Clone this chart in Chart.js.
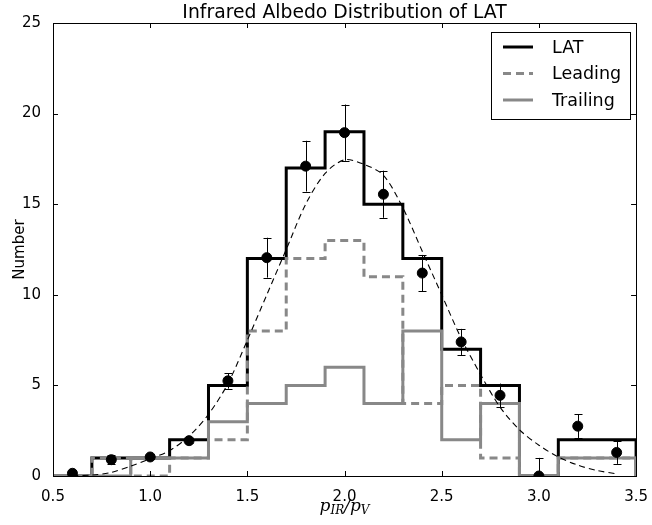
<!DOCTYPE html>
<html>
<head>
<meta charset="utf-8">
<script src="https://cdn.jsdelivr.net/npm/chart.js@4.4.0/dist/chart.umd.min.js"></script>
<style>
  html, body { margin: 0; padding: 0; background: #fff; }
  #wrap { width: 652px; height: 525px; }
</style>
</head>
<body>
<div id="wrap"><canvas id="c" width="652" height="525"></canvas></div>
<script>
// ---------------- DATA ----------------
const titleText = 'Infrared Albedo Distribution of LAT';
const yAxisTitle = 'Number';
const legendLabels = ['LAT', 'Leading', 'Trailing'];

const xTicks = [0.5, 1.0, 1.5, 2.0, 2.5, 3.0, 3.5];
const yTicks = [0, 5, 10, 15, 20, 25];

const binEdges = [0.5, 0.7, 0.9, 1.1, 1.3, 1.5, 1.7, 1.9, 2.1, 2.3, 2.5, 2.7, 2.9, 3.1, 3.3, 3.5];
const latCounts      = [0, 1, 1, 2, 5, 12, 17, 19, 15, 12, 7, 5, 0, 2, 2];
const leadingCounts  = [0, 1, 0, 1, 2,  8, 12, 13, 11,  4, 5, 1, 0, 1, 1];
const trailingCounts = [0, 0, 1, 1, 3,  4,  5,  6,  4,  8, 2, 4, 0, 1, 1];

const pointX   = [0.6, 0.8, 1.0, 1.2, 1.4, 1.6, 1.8, 2.0, 2.2, 2.4, 2.6, 2.8, 3.0, 3.2, 3.4];
const pointY   = [0.15, 0.9, 1.05, 1.95, 5.25, 12.05, 17.1, 18.95, 15.55, 11.2, 7.4, 4.45, 0.0, 2.75, 1.3];
const pointErr = [0.15, 0.25, 0.12, 0.12, 0.43, 1.1, 1.4, 1.55, 1.3, 1.0, 0.72, 0.65, 1.0, 0.65, 0.63];

const fitX = [0.6, 0.7, 0.8, 0.9, 1.0, 1.1, 1.2, 1.3, 1.4, 1.5, 1.6, 1.7, 1.8, 1.9, 2.0, 2.1, 2.2, 2.3, 2.4, 2.5, 2.6, 2.7, 2.8, 2.9, 3.0, 3.1, 3.2, 3.3, 3.4];
const fitY = [0.02, 0.05, 0.2, 0.55, 0.95, 1.4, 2.2, 3.4, 5.1, 7.5, 10.0, 12.5, 15.0, 16.7, 17.45, 17.2, 16.6, 14.8, 12.4, 10.0, 7.6, 5.6, 3.8, 2.55, 1.7, 1.05, 0.6, 0.3, 0.12];

// ---------------- HELPERS ----------------
// points for a matplotlib-like "step" histogram outline
function stepData(edges, counts) {
  const pts = [{x: edges[0], y: 0}, {x: edges[0], y: counts[0]}];
  for (let i = 0; i < counts.length; i++) pts.push({x: edges[i + 1], y: counts[i]});
  pts.push({x: edges[edges.length - 1], y: 0});
  return pts;
}
const GRAY = '#888888';

const overlayPlugin = {
  id: 'overlay',
  beforeDatasetDraw(chart, args) {
    if (args.meta.label !== 'points') return;
    const {ctx, chartArea: a, scales: {x, y}} = chart;
    ctx.save();
    ctx.beginPath();
    ctx.rect(a.left, a.top, a.right - a.left, a.bottom - a.top);
    ctx.clip();
    ctx.strokeStyle = '#000';
    ctx.lineWidth = 1;
    for (let i = 0; i < pointX.length; i++) {
      const px = Math.round(x.getPixelForValue(pointX[i])) + 0.5;
      const yt = y.getPixelForValue(pointY[i] + pointErr[i]);
      const yb = y.getPixelForValue(pointY[i] - pointErr[i]);
      ctx.beginPath();
      ctx.moveTo(px, yt); ctx.lineTo(px, yb);
      ctx.moveTo(px - 4, Math.round(yt) + 0.5); ctx.lineTo(px + 4, Math.round(yt) + 0.5);
      ctx.moveTo(px - 4, Math.round(yb) + 0.5); ctx.lineTo(px + 4, Math.round(yb) + 0.5);
      ctx.stroke();
    }
    ctx.restore();
  },
  afterDraw(chart) {
    const {ctx, chartArea: a, scales: {x, y}} = chart;
    ctx.save();
    // frame
    ctx.strokeStyle = '#000';
    ctx.lineWidth = 1;
    ctx.strokeRect(Math.round(a.left) + 0.5, Math.round(a.top) + 0.5, Math.round(a.right - a.left), Math.round(a.bottom - a.top));
    // inner ticks on all sides
    ctx.beginPath();
    const tl = 5;
    xTicks.forEach(v => {
      const px = Math.round(x.getPixelForValue(v)) + 0.5;
      ctx.moveTo(px, a.bottom); ctx.lineTo(px, a.bottom - tl);
      ctx.moveTo(px, a.top); ctx.lineTo(px, a.top + tl);
    });
    yTicks.forEach(v => {
      const py = Math.round(y.getPixelForValue(v)) + 0.5;
      ctx.moveTo(a.left, py); ctx.lineTo(a.left + tl, py);
      ctx.moveTo(a.right, py); ctx.lineTo(a.right - tl, py);
    });
    ctx.stroke();

    // title
    const cx = (a.left + a.right) / 2;
    ctx.fillStyle = '#000';
    ctx.font = '18.8px "DejaVu Sans"';
    ctx.textAlign = 'center';
    ctx.textBaseline = 'alphabetic';
    ctx.fillText(titleText, cx, 17.5);

    // y axis title
    ctx.save();
    ctx.translate(23.5, (a.top + a.bottom) / 2);
    ctx.rotate(-Math.PI / 2);
    ctx.font = '15px "DejaVu Sans"';
    ctx.textAlign = 'center';
    ctx.fillText(yAxisTitle, 0, 0);
    ctx.restore();

    // x axis title: p_IR / p_V (math style)
    const big = 'italic 17px "DejaVu Serif"';
    const small = 'italic 12px "DejaVu Serif"';
    const parts = [
      {t: 'p', f: big, dy: 0},
      {t: 'IR', f: small, dy: 3},
      {t: '/', f: 'italic 17px "DejaVu Serif"', dy: 0},
      {t: 'p', f: big, dy: 0},
      {t: 'V', f: small, dy: 3}
    ];
    let total = 0;
    parts.forEach(p => { ctx.font = p.f; p.w = ctx.measureText(p.t).width; total += p.w; });
    let sx = cx - total / 2;
    ctx.textAlign = 'left';
    parts.forEach(p => { ctx.font = p.f; ctx.fillText(p.t, sx, 511 + p.dy); sx += p.w; });

    // legend
    const lx = 491.5, ly = 32.5, lw = 139, lh = 87;
    ctx.fillStyle = '#fff';
    ctx.fillRect(lx, ly, lw, lh);
    ctx.strokeStyle = '#000';
    ctx.lineWidth = 1;
    ctx.strokeRect(lx, ly, lw, lh);
    const rows = [
      {y: 47, color: '#000', dash: []},
      {y: 73.5, color: GRAY, dash: [8, 5]},
      {y: 100, color: GRAY, dash: []}
    ];
    ctx.font = '17.5px "DejaVu Sans"';
    ctx.textBaseline = 'middle';
    rows.forEach((r, i) => {
      ctx.strokeStyle = r.color;
      ctx.lineWidth = 3;
      ctx.setLineDash(r.dash);
      ctx.beginPath();
      ctx.moveTo(503, r.y); ctx.lineTo(533, r.y);
      ctx.stroke();
      ctx.setLineDash([]);
      ctx.fillStyle = '#000';
      ctx.fillText(legendLabels[i], 552, r.y + 1);
    });
    ctx.restore();
  }
};

new Chart(document.getElementById('c'), {
  type: 'scatter',
  data: {
    datasets: [
      {label: legendLabels[0], type: 'line', data: stepData(binEdges, latCounts), stepped: 'after',
       borderColor: '#000', borderWidth: 3, pointRadius: 0, fill: false, order: 5, borderJoinStyle: 'miter'},
      {label: legendLabels[1], type: 'line', data: stepData(binEdges, leadingCounts), stepped: 'after',
       borderColor: GRAY, borderWidth: 3, borderDash: [8, 5], pointRadius: 0, fill: false, order: 4, borderJoinStyle: 'miter'},
      {label: legendLabels[2], type: 'line', data: stepData(binEdges, trailingCounts), stepped: 'after',
       borderColor: GRAY, borderWidth: 3, pointRadius: 0, fill: false, order: 3, borderJoinStyle: 'miter'},
      {label: 'fit', type: 'line', data: fitX.map((v, i) => ({x: v, y: fitY[i]})),
       borderColor: '#000', borderWidth: 1.1, borderDash: [6, 4], pointRadius: 0, fill: false, tension: 0.3, order: 2},
      {label: 'points', type: 'scatter', data: pointX.map((v, i) => ({x: v, y: pointY[i]})),
       backgroundColor: '#000', borderColor: '#000', pointRadius: 5, pointHoverRadius: 5, order: 1}
    ]
  },
  options: {
    responsive: false,
    animation: false,
    devicePixelRatio: 1,
    events: [],
    layout: {padding: {top: 23, right: 13, left: 0, bottom: 0}},
    plugins: {legend: {display: false}, title: {display: false}, tooltip: {enabled: false}},
    scales: {
      x: {
        type: 'linear', min: 0.5, max: 3.5,
        afterBuildTicks: s => { s.ticks = xTicks.map(v => ({value: v})); },
        afterFit: s => { s.height = 49; },
        grid: {display: false}, border: {display: false},
        ticks: {color: '#000', font: {family: 'DejaVu Sans', size: 15}, padding: 4, maxRotation: 0,
                callback: v => v.toFixed(1)}
      },
      y: {
        type: 'linear', min: 0, max: 25,
        afterBuildTicks: s => { s.ticks = yTicks.map(v => ({value: v})); },
        afterFit: s => { s.width = 53; },
        grid: {display: false}, border: {display: false},
        ticks: {color: '#000', font: {family: 'DejaVu Sans', size: 15}, padding: 4,
                callback: v => String(v)}
      }
    }
  },
  plugins: [overlayPlugin]
});
</script>
</body>
</html>
